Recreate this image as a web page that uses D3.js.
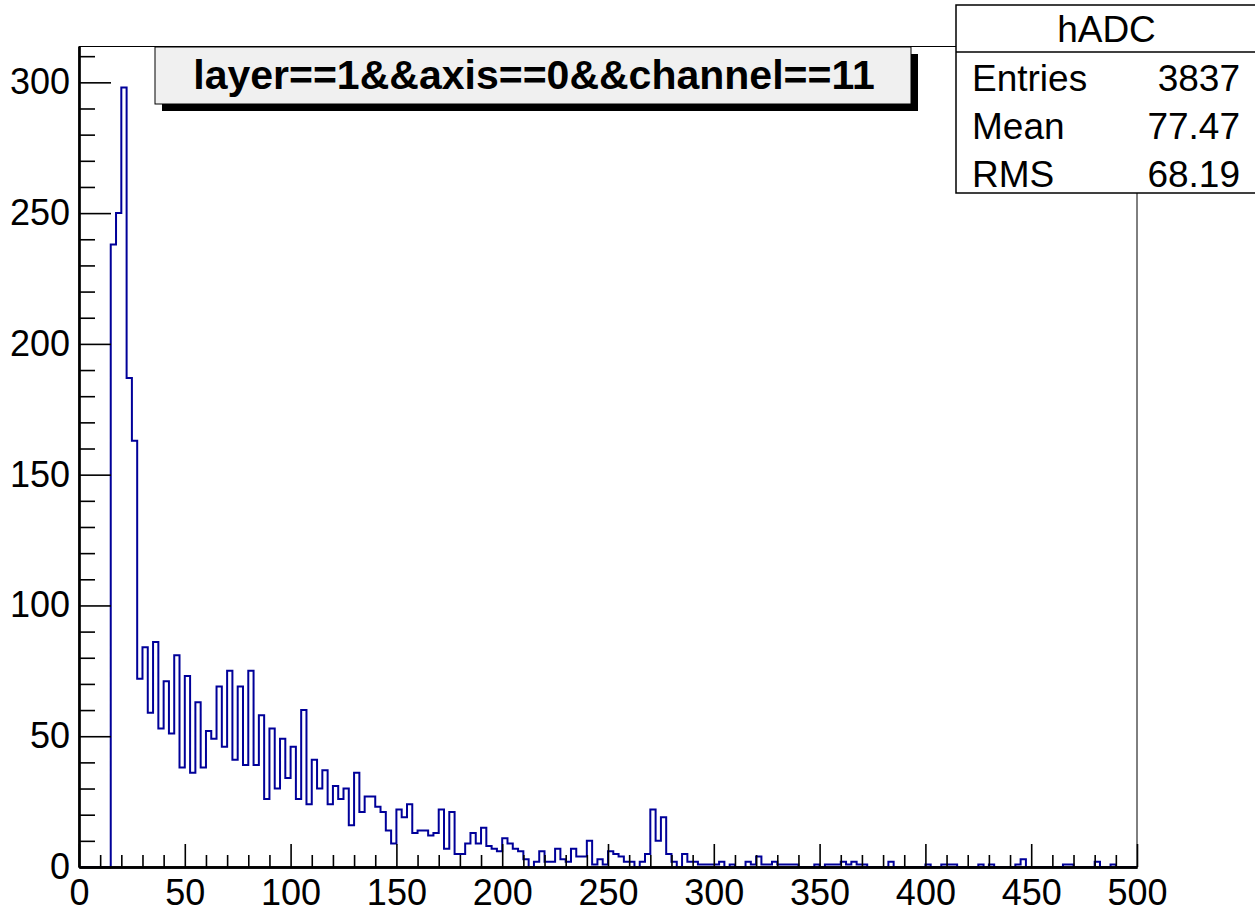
<!DOCTYPE html>
<html><head><meta charset="utf-8">
<script src="https://cdn.jsdelivr.net/npm/d3@7"></script>
<style>html,body{margin:0;padding:0;background:#fff;} svg{display:block;}</style>
</head><body>
<svg id="c" width="1255" height="908"></svg>
<script>
// ---- data ----
const xLow = 0, xHigh = 500, binWidth = 2.5;
const counts = [
  0,0,0,0,0,0,
  238,250,298,187,163,
  72,84,59,86,53,71,51,81,38,73,
  36,63,38,52,49,69,46,75,41,69,
  39,75,39,58,26,53,30,49,34,46,
  26,60,24,41,30,37,24,31,26,30,
  16,36,21,27,27,23,21,14,9,22,
  19,24,13,14,14,12,13,22,7,21,
  5,5,9,13,9,15,8,7,6,11,
  9,7,6,3,0,2,6,2,2,7,
  3,2,7,4,4,10,1,3,1,6,
  5,4,2,2,0,2,5,22,10,19,
  5,2,0,5,2,2,1,1,1,1,
  2,0,1,0,0,2,1,4,1,1,
  2,1,1,1,1,0,0,0,1,0,
  1,1,1,2,1,2,1,1,0,0,
  0,0,2,0,0,0,0,0,0,1,
  0,0,1,1,1,0,0,0,0,1,
  0,1,0,0,0,0,1,3,0,0,
  0,0,0,0,0,1,1,0,0,0,
  0,2,0,0,1,0,0,0,0
];
const xTicks = [0,50,100,150,200,250,300,350,400,450,500];
const yTicks = [0,50,100,150,200,250,300];
const titleText = "layer==1&&axis==0&&channel==11";
const statName = "hADC";
const statLabels = ["Entries","Mean","RMS"];
const statValues = ["3837","77.47","68.19"];

// ---- layout ----
const m = {left:79, right:1137, top:46.5, bottom:867};
const yMax = 313.7;
const font = "'Liberation Sans', Arial, Helvetica, sans-serif";
const x = d3.scaleLinear().domain([xLow, xHigh]).range([m.left, m.right]);
const y = d3.scaleLinear().domain([0, yMax]).range([m.bottom, m.top]);
const svg = d3.select("#c");

// frame
svg.append("rect").attr("x", m.left).attr("y", m.top)
  .attr("width", m.right - m.left).attr("height", m.bottom - m.top)
  .attr("fill", "none").attr("stroke", "#000").attr("stroke-width", 1);

// histogram
const pts = [[xLow, 0]];
counts.forEach((c, i) => { pts.push([xLow + i*binWidth, c]); pts.push([xLow + (i+1)*binWidth, c]); });
pts.push([xHigh, 0]);
svg.append("path").datum(pts)
  .attr("d", d3.line().x(d => x(d[0])).y(d => y(d[1])))
  .attr("fill", "none").attr("stroke", "#000099").attr("stroke-width", 2)
  .attr("stroke-linejoin", "miter");

// axes
function styleAxis(g, w) {
  g.select(".domain").attr("stroke", "#000").attr("stroke-width", w);
  g.selectAll(".tick line").attr("stroke", "#000").attr("stroke-width", 1.6);
  g.selectAll("text").attr("font-family", font).attr("font-size", 36).attr("fill", "#000");
}
const yMinor = d3.range(0, yMax, 10).filter(v => v % 50 !== 0);
const xMinor = d3.range(0, xHigh + 1, 10).filter(v => v % 50 !== 0);

const gyMinor = svg.append("g").attr("transform", `translate(${m.left},0)`)
  .call(d3.axisLeft(y).tickValues(yMinor).tickSize(-16).tickSizeOuter(0).tickFormat(""));
styleAxis(gyMinor, 2.2);
const gy = svg.append("g").attr("transform", `translate(${m.left},0)`)
  .call(d3.axisLeft(y).tickValues(yTicks).tickSize(-32).tickSizeOuter(0).tickPadding(9).tickFormat(d3.format("d")));
styleAxis(gy, 2.2);

const gxMinor = svg.append("g").attr("transform", `translate(0,${m.bottom})`)
  .call(d3.axisBottom(x).tickValues(xMinor).tickSize(-12).tickSizeOuter(0).tickFormat(""));
styleAxis(gxMinor, 2.6);
const gx = svg.append("g").attr("transform", `translate(0,${m.bottom})`)
  .call(d3.axisBottom(x).tickValues(xTicks).tickSize(-23).tickSizeOuter(0).tickPadding(12).tickFormat(d3.format("d")));
styleAxis(gx, 2.6);

// title box with shadow
const tb = {x:155, y:47, w:756, h:57, sh:7};
svg.append("rect").attr("x", tb.x + tb.sh).attr("y", tb.y + tb.sh).attr("width", tb.w).attr("height", tb.h).attr("fill", "#000");
svg.append("rect").attr("x", tb.x).attr("y", tb.y).attr("width", tb.w).attr("height", tb.h)
  .attr("fill", "#f0f0f0").attr("stroke", "#000").attr("stroke-width", 1);
svg.append("text").attr("x", 534).attr("y", 89).attr("text-anchor", "middle")
  .attr("font-family", font).attr("font-weight", "bold").attr("font-size", 41).attr("fill", "#000")
  .text(titleText);

// stats box
const sb = {x:956, y:5, w:320, h:188, sep:52};
svg.append("rect").attr("x", sb.x).attr("y", sb.y).attr("width", sb.w).attr("height", sb.h)
  .attr("fill", "#fff").attr("stroke", "#000").attr("stroke-width", 1.5);
svg.append("line").attr("x1", sb.x).attr("x2", 1255).attr("y1", sb.sep).attr("y2", sb.sep)
  .attr("stroke", "#000").attr("stroke-width", 1.5);
svg.append("text").attr("x", 1106.5).attr("y", 42).attr("text-anchor", "middle")
  .attr("font-family", font).attr("font-size", 37).attr("fill", "#000").text(statName);
const rowBase = [91, 139, 187];
statLabels.forEach((lab, i) => {
  svg.append("text").attr("x", 972).attr("y", rowBase[i]).attr("font-family", font)
    .attr("font-size", 37).attr("fill", "#000").text(lab);
  svg.append("text").attr("x", 1240).attr("y", rowBase[i]).attr("text-anchor", "end").attr("font-family", font)
    .attr("font-size", 37).attr("fill", "#000").text(statValues[i]);
});
</script>
</body></html>
